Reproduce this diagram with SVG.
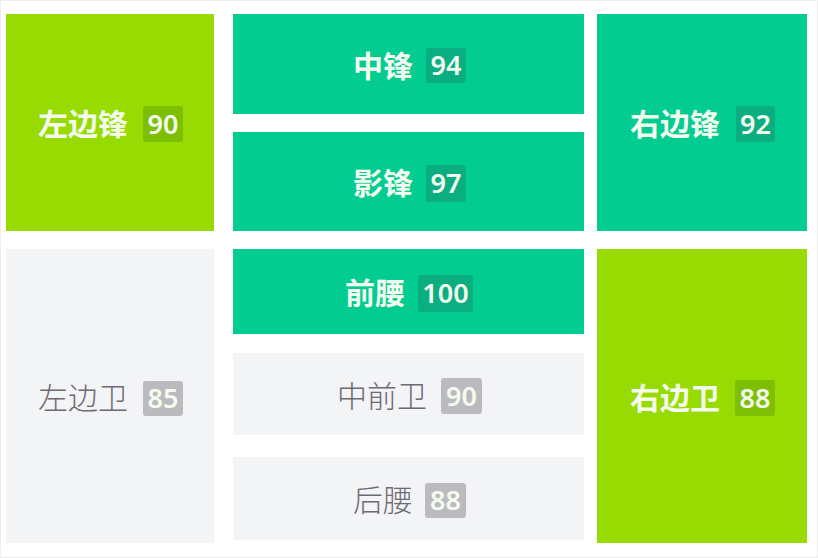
<svg xmlns="http://www.w3.org/2000/svg" width="818" height="558" viewBox="0 0 818 558">
<style>
.lime{fill:#98DB02}
.teal{fill:#03CC90}
.grey{fill:#F3F4F6}
.lbl{font-family:"Noto Sans CJK SC","Noto Sans",sans-serif;font-size:30px}
.lw{fill:#F4FBEF;font-weight:700}
.lg{fill:#6E6A74;font-weight:300}
.num{font-family:"Noto Sans","Open Sans",sans-serif;font-size:27px;font-weight:600;text-anchor:middle}
.nw{fill:#F4FBEF}
.bl{fill:#7DBF06}
.bt{fill:#0AAE80}
.bg{fill:#BBBABF}
</style>
<rect width="818" height="558" fill="#ffffff"/>
<rect x="0.5" y="0.5" width="817" height="557" fill="none" stroke="#EEEEF0" stroke-width="1"/>
<g id="lw-forward">
<rect class="lime" x="6" y="14" width="208" height="217"/>
<text class="lbl lw" x="38" y="135">左边锋</text>
<rect class="bl" x="143" y="106" width="40" height="36" rx="3"/>
<text class="num nw" x="163" y="133.5">90</text>
</g>
<g id="striker">
<rect class="teal" x="233" y="14" width="351" height="100"/>
<text class="lbl lw" x="353" y="77">中锋</text>
<rect class="bt" x="426" y="48" width="40" height="35" rx="3"/>
<text class="num nw" x="446" y="75">94</text>
</g>
<g id="shadow-striker">
<rect class="teal" x="233" y="132" width="351" height="99"/>
<text class="lbl lw" x="353" y="194">影锋</text>
<rect class="bt" x="426" y="165" width="40" height="37" rx="3"/>
<text class="num nw" x="446" y="193">97</text>
</g>
<g id="rw-forward">
<rect class="teal" x="597" y="14" width="210" height="217"/>
<text class="lbl lw" x="630" y="135">右边锋</text>
<rect class="bt" x="736" y="106" width="39" height="36" rx="3"/>
<text class="num nw" x="755.5" y="133.5">92</text>
</g>
<g id="left-back">
<rect class="grey" x="6" y="249" width="208" height="294"/>
<text class="lbl lg" x="38" y="409">左边卫</text>
<rect class="bg" x="143" y="381" width="40" height="35" rx="3"/>
<text class="num nw" x="163" y="408" font-weight="700">85</text>
</g>
<g id="att-mid">
<rect class="teal" x="233" y="249" width="351" height="85"/>
<text class="lbl lw" x="345" y="304">前腰</text>
<rect class="bt" x="418" y="275" width="55" height="37" rx="3"/>
<text class="num nw" x="445.5" y="303">100</text>
</g>
<g id="center-mid">
<rect class="grey" x="233" y="353" width="351" height="82"/>
<text class="lbl lg" x="337" y="407">中前卫</text>
<rect class="bg" x="441" y="378" width="41" height="36" rx="3"/>
<text class="num nw" x="461.5" y="405.5" font-weight="700">90</text>
</g>
<g id="def-mid">
<rect class="grey" x="233" y="457" width="351" height="83"/>
<text class="lbl lg" x="353" y="511">后腰</text>
<rect class="bg" x="425" y="483" width="41" height="35" rx="3"/>
<text class="num nw" x="445.5" y="510" font-weight="700">88</text>
</g>
<g id="right-back">
<rect class="lime" x="597" y="249" width="210" height="294"/>
<text class="lbl lw" x="630" y="409">右边卫</text>
<rect class="bl" x="735" y="380" width="40" height="36" rx="3"/>
<text class="num nw" x="755" y="407.5">88</text>
</g>
<g id="connectors"></g>
</svg>
